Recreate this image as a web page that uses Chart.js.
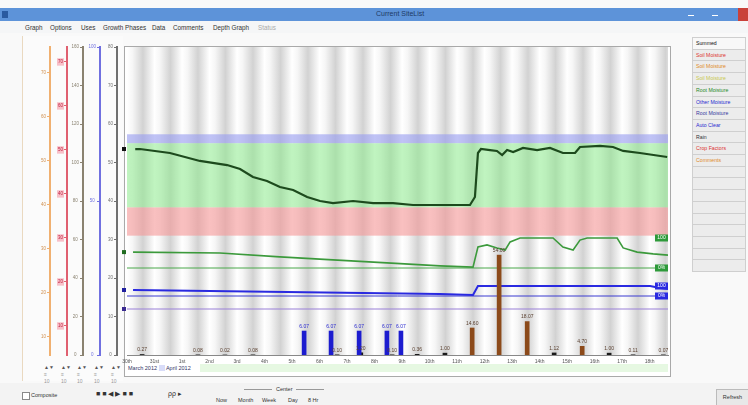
<!DOCTYPE html>
<html><head><meta charset="utf-8">
<script src="https://cdn.jsdelivr.net/npm/chart.js@4.4.1/dist/chart.umd.min.js"></script>
<style>
html,body{margin:0;padding:0;width:748px;height:405px;overflow:hidden;background:#f9f9f9;font-family:"Liberation Sans",Arial,sans-serif;}
.abs{position:absolute;}
#title{left:0;top:8px;width:748px;height:13px;background:#5d93d9;}
#title span{position:absolute;left:376px;top:2px;font-size:7px;color:#1d3a66;}
#menu{left:0;top:21px;width:748px;height:12px;background:#f5f6f7;font-size:6.3px;color:#333;}
#menu span{position:absolute;top:3px;}
#frame{left:124px;top:46px;width:545px;height:329px;border:1px solid #a9a9a9;background:#fff;}
#leftpane{left:22px;top:36px;width:100px;height:345px;border-left:1px solid #ead9c0;background:#fbfbfb;}
.btn{position:absolute;left:692px;width:52px;height:11px;background:#ececec;border:1px solid #cfcfcf;font-size:5.2px;line-height:11px;text-indent:3px;white-space:nowrap;overflow:hidden;}
#strip{left:200px;top:364px;width:468px;height:8px;background:#e6f8e2;}
#months{left:128px;top:365px;font-size:5.5px;color:#336;}
#bottom{left:0;top:383px;width:748px;height:22px;background:#f3f3f3;font-size:5.5px;color:#333;}
canvas{position:absolute;left:0;top:0;}
</style></head>
<body>
<div id="title" class="abs"><div class="abs" style="left:2px;top:3px;width:6px;height:7px;background:#2a5aa0"></div><span>Current SiteList</span>
<div class="abs" style="left:688px;top:7px;width:6px;height:1px;background:#fff"></div>
<div class="abs" style="left:712px;top:7px;width:6px;height:1px;background:#fff"></div>
<div class="abs" style="left:738px;top:0;width:10px;height:13px;background:#c9413a"></div></div>
<div id="menu" class="abs"><span style="left:25px">Graph</span><span style="left:50px">Options</span><span style="left:81px">Uses</span><span style="left:103px">Growth Phases</span><span style="left:152px">Data</span><span style="left:173px">Comments</span><span style="left:213px">Depth Graph</span><span style="left:258px;color:#aaa">Status</span></div>
<div id="leftpane" class="abs"></div>
<div id="frame" class="abs"></div>
<div id="strip" class="abs"></div>
<div id="months" class="abs">March 2012 <span style="background:#d8dcf8;color:#d8dcf8">__</span> April 2012</div>
<div id="buttons"></div>
<div id="bottom" class="abs">
<div class="abs" style="left:22px;top:9px;width:6px;height:6px;border:1px solid #888;background:#fff"></div><span class="abs" style="left:31px;top:9px">Composite</span>
<span class="abs" style="left:96px;top:7px;font-size:7px;letter-spacing:2px">■■◀▶■■</span>
<span class="abs" style="left:168px;top:7px;font-size:7px">ρρ ▸</span>
<div class="abs" style="left:244px;top:6px;width:28px;height:1px;background:#999"></div><span class="abs" style="left:276px;top:3px">Center</span><div class="abs" style="left:296px;top:6px;width:28px;height:1px;background:#999"></div>
<span class="abs" style="left:216px;top:14px">Now</span><span class="abs" style="left:238px;top:14px">Month</span><span class="abs" style="left:262px;top:14px">Week</span><span class="abs" style="left:288px;top:14px">Day</span><span class="abs" style="left:308px;top:14px">8 Hr</span>
<div class="abs" style="left:716px;top:6px;width:31px;height:15px;background:#e8e8e8;border:1px solid #bbb;line-height:15px;text-align:center">Refresh</div>
</div>
<div id="axbottom"></div>
<canvas id="c" width="748" height="405"></canvas>
<script>
// ---------------- data ----------------
const xTickLabels = ["30th","31st","1st","2nd","3rd","4th","5th","6th","7th","8th","9th","10th","11th","12th","13th","14th","15th","16th","17th","18th"];
// summed soil moisture (mm)
const sumDays   = [0.3,0.47,1.56,2.65,3.64,4.11,4.58,5.09,5.56,6.04,6.55,7.02,7.49,8.22,8.95,9.67,10.4,11.38,12.47,12.65,12.76,12.87,13.2,13.45,13.64,13.82,14.04,14.4,14.91,15.38,15.85,16.29,16.47,17.2,17.67,18.04,18.65,19.64];
const sumValues = [245.5,245.5,242.4,236.2,233.0,229.9,223.7,220.6,215.9,213.6,208.1,205.0,203.4,205.0,203.4,203.4,201.9,201.9,201.9,208.1,242.4,245.5,244.7,244.0,240.8,244.7,243.2,246.3,244.7,246.3,242.4,242.4,247.1,247.9,247.1,244.0,242.4,239.3];
// root zone available water (%)
const rootDays   = [0.22,3.38,5.56,7.49,9.45,11.38,12.58,12.76,13.09,13.45,13.75,13.93,14.29,15.49,15.85,16.22,16.47,16.73,17.82,18.04,18.55,19.13,19.67];
const rootValues = [53,50,37,27,17,7,3,70,77,67,60,87,100,100,70,60,93,100,100,67,53,47,43];
// deep sensor (%)
const deepDays   = [0.22,11.38,12.58,12.76,19.02,19.38,19.67];
const deepValues = [60,20,10,100,100,80,70];
// lower reference level
const baseDays   = [0,19.67];
const baseValues = [0,0];
// irrigation (mm)
const irrigationDays   = [6.44,7.42,8.44,9.45,9.96];
const irrigationValues = [6.07,6.07,6.07,6.07,6.07];
// rainfall (mm)
const rainDays   = [0.55,2.58,3.56,4.58,7.64,8.5,9.64,10.55,11.56,12.55,13.53,14.55,15.53,16.55,17.53,18.4,19.5];
const rainValues = [0.27,0.08,0.02,0.08,0.10,1.20,0.10,0.36,1.00,14.60,54.00,18.07,1.12,4.70,1.00,0.11,0.07];
// soil moisture bands (mm)
const overFullPoint = 257, fullPoint = 250, refillPoint = 200, stressPoint = 178;
// left scale tick labels
const orangeTicks = [10,20,30,40,50,60,70];
const redTicks    = [10,20,30,40,50,60,70];
const brownTicks  = [0,20,40,60,80,100,120,140,160];
const blueTicks   = [0,50,100];
const grayTicks   = [0,10,20,30,40,50,60,70,80];
// right-panel legend buttons
const legendNames  = ["Summed","Soil Moisture","Soil Moisture","Soil Moisture","Root Moisture","Other Moisture","Root Moisture","Auto Clear","Rain","Crop Factors","Comments"];
const legendColors = ["#111","#d33","#e08a2a","#c8c850","#2a8a2a","#2a2ad0","#3a3aa0","#2a2ad0","#333","#d33","#e08a2a"];

// ------------- chrome -------------
const bwrap = document.getElementById('buttons');
for (let i = 0; i < 20; i++) {
  const d = document.createElement('div');
  d.className = 'btn';
  d.style.top = (37 + i * 11.7) + 'px';
  if (i < legendNames.length) { d.textContent = legendNames[i]; d.style.color = legendColors[i]; }
  if (i === 0) d.style.background = '#f8f8f8';
  bwrap.appendChild(d);
}
const axCols = ['#f0b070','#e06070','#8a8270','#7070e0','#707070'];
const axX = [50,67,83,100,117];
const axb = document.getElementById('axbottom');
axX.forEach((x,i)=>{
  ['▲▼','≡','10'].forEach((t,j)=>{
    const s=document.createElement('span');s.className='abs';s.textContent=t;
    s.style.cssText=`left:${x-6}px;top:${364+j*7}px;font-size:5px;color:${j==0?'#555':'#999'}`;
    axb.appendChild(s);
  });
});

// ------------- plugins -------------
const bgPlugin = {
  id:'bg',
  beforeDraw(chart){
    const {ctx, chartArea:a, scales} = chart;
    const x = scales.x, ys = scales.ySum;
    ctx.save();
    ctx.beginPath(); ctx.rect(a.left,a.top,a.width,a.height); ctx.clip();
    for (let d = -1; d < 21; d++) {
      const x0 = x.getPixelForValue(d), x1 = x.getPixelForValue(d+1);
      const g = ctx.createLinearGradient(x0,0,x1,0);
      g.addColorStop(0,'#ffffff'); g.addColorStop(0.2,'#f6f6f6');
      g.addColorStop(0.58,'#d2d2d2'); g.addColorStop(0.85,'#efefef'); g.addColorStop(1,'#ffffff');
      ctx.fillStyle = g; ctx.fillRect(x0, a.top, x1-x0, a.height);
    }
    const band=(v0,v1,col)=>{const p0=ys.getPixelForValue(v0),p1=ys.getPixelForValue(v1);ctx.fillStyle=col;ctx.fillRect(a.left,Math.min(p0,p1),a.width,Math.abs(p1-p0));};
    band(fullPoint, overFullPoint, 'rgba(150,155,240,0.6)');
    band(refillPoint, fullPoint, 'rgba(140,235,140,0.55)');
    band(stressPoint, refillPoint, 'rgba(245,150,150,0.6)');
    ctx.restore();
  },
  afterDatasetsDraw(chart){
    const {ctx, chartArea:a, scales} = chart;
    ctx.save();
    ctx.font = '5px "Liberation Sans", Arial';
    ctx.textAlign = 'center'; ctx.textBaseline = 'bottom';
    chart.data.datasets.forEach((ds,i)=>{
      if (ds.type !== 'bar') return;
      const meta = chart.getDatasetMeta(i);
      meta.data.forEach((el,j)=>{
        ctx.fillStyle = ds.labelColor;
        ctx.fillText(ds.data[j].y.toFixed(2), el.x, el.y - 2);
      });
    });
    const tag=(scale,v,col,txt)=>{const y=scales[scale].getPixelForValue(v);ctx.fillStyle=col;ctx.fillRect(a.right-13,y-3.5,13,7);ctx.fillStyle='#fff';ctx.textBaseline='middle';ctx.fillText(txt,a.right-6.5,y);};
    tag('yRoot',100,'#2e9a3a','100');
    tag('yRoot',0,'#2e9a3a','0%');
    tag('yDeep',100,'#2a2ae0','100');
    tag('yDeep',0,'#2a2ae0','0%');
    const mk=(scale,v,col)=>{const y=scales[scale].getPixelForValue(v);ctx.fillStyle=col;ctx.fillRect(a.left-5,y-2,4,4);};
    mk('ySum',sumValues[0],'#111'); mk('yRoot',rootValues[0],'#1f6b1f'); mk('yDeep',deepValues[0],'#2020a0'); mk('yBase',baseValues[0],'#3a2a90');
    ctx.restore();
  }
};

const pts=(xs,ys)=>xs.map((x,i)=>({x, y:ys[i]}));
const deco=(col,labelCol,w,min,max,tickList,weight,extraTicks={})=>({
  type:'linear', position:'left', min, max, display:true, weight,
  afterFit:s=>{s.width=w;},
  afterBuildTicks:s=>{s.ticks=tickList.map(v=>({value:v}));},
  border:{display:true,color:col,width:2},
  grid:{drawOnChartArea:false,drawTicks:true,tickLength:3,color:col},
  ticks:Object.assign({font:{size:4.5},color:labelCol,padding:1,crossAlign:'center'},extraTicks)
});

new Chart(document.getElementById('c'),{
  type:'line',
  data:{datasets:[
    {type:'bar',label:'Irrigation',data:pts(irrigationDays,irrigationValues),yAxisID:'yIrr',backgroundColor:'#1c1ccf',barThickness:4,grouped:false,order:0,labelColor:'#2a2ad0'},
    {type:'bar',label:'Rain',data:pts(rainDays,rainValues),yAxisID:'yRain',backgroundColor:c=>(c.raw&&c.raw.y<1.5)?'#1a1a1a':'#8c4a1a',barThickness:4,grouped:false,order:0,labelColor:'#5a4030'},
    {label:'Summed',data:pts(sumDays,sumValues),yAxisID:'ySum',borderColor:'#1d4a1d',borderWidth:2.2,pointRadius:0,order:1},
    {label:'Root',data:pts(rootDays,rootValues),yAxisID:'yRoot',borderColor:'#3c9a3c',borderWidth:1.6,pointRadius:0,order:1},
    {label:'Root 0',data:pts(baseDays,baseValues),yAxisID:'yRoot',borderColor:'#4aa84a',borderWidth:1,pointRadius:0,order:1},
    {label:'Deep',data:pts(deepDays,deepValues),yAxisID:'yDeep',borderColor:'#2a2ae0',borderWidth:2,pointRadius:0,order:1},
    {label:'Deep 0',data:pts(baseDays,baseValues),yAxisID:'yDeep',borderColor:'#3a3ad0',borderWidth:1,pointRadius:0,order:1},
    {label:'Base',data:pts(baseDays,baseValues),yAxisID:'yBase',borderColor:'#9a80d8',borderWidth:1.2,pointRadius:0,order:1}
  ]},
  options:{
    responsive:false, animation:false, devicePixelRatio:1,
    layout:{padding:{left:33,top:47,right:80,bottom:39}},
    plugins:{legend:{display:false},tooltip:{enabled:false}},
    scales:{
      x:{type:'linear',min:0,max:19.67,offset:false,
         afterFit:s=>{s.height=11;},
         grid:{display:false,drawTicks:false}, border:{display:true,color:'#888'},
         ticks:{stepSize:1,includeBounds:false,autoSkip:false,maxRotation:0,font:{size:5},color:'#555',padding:4,
                callback:v=>xTickLabels[v]??''}},
      ySum:{type:'linear',display:false,min:85,max:325},
      yRoot:{type:'linear',display:false,min:-290,max:736.67},
      yDeep:{type:'linear',display:false,min:-590,max:2490},
      yBase:{type:'linear',display:false,min:-46,max:262},
      yRain:{type:'linear',display:false,min:0,max:166.5},
      yIrr:{type:'linear',display:false,min:0,max:78},
      aOrange:deco(axCols[0],'#d09050',17,5.9,75.9,orangeTicks,6),
      aRed:deco(axCols[1],'#c02040',17,3.4,73.4,redTicks,5,{showLabelBackdrop:true,backdropColor:'#f8c0c8',backdropPadding:1}),
      aBrown:deco(axCols[2],'#8a8270',16,0,160,brownTicks,4),
      aBlue:deco(axCols[3],'#7070e0',17,0,100,blueTicks,3),
      aGray:deco(axCols[4],'#707070',17,0,80,grayTicks,2),
      spacer:{type:'linear',position:'left',weight:1,display:true,min:0,max:1,afterFit:s=>{s.width=10;},
              border:{display:false},grid:{display:false},ticks:{display:false}}
    }
  },
  plugins:[bgPlugin]
});
</script>
</body></html>
